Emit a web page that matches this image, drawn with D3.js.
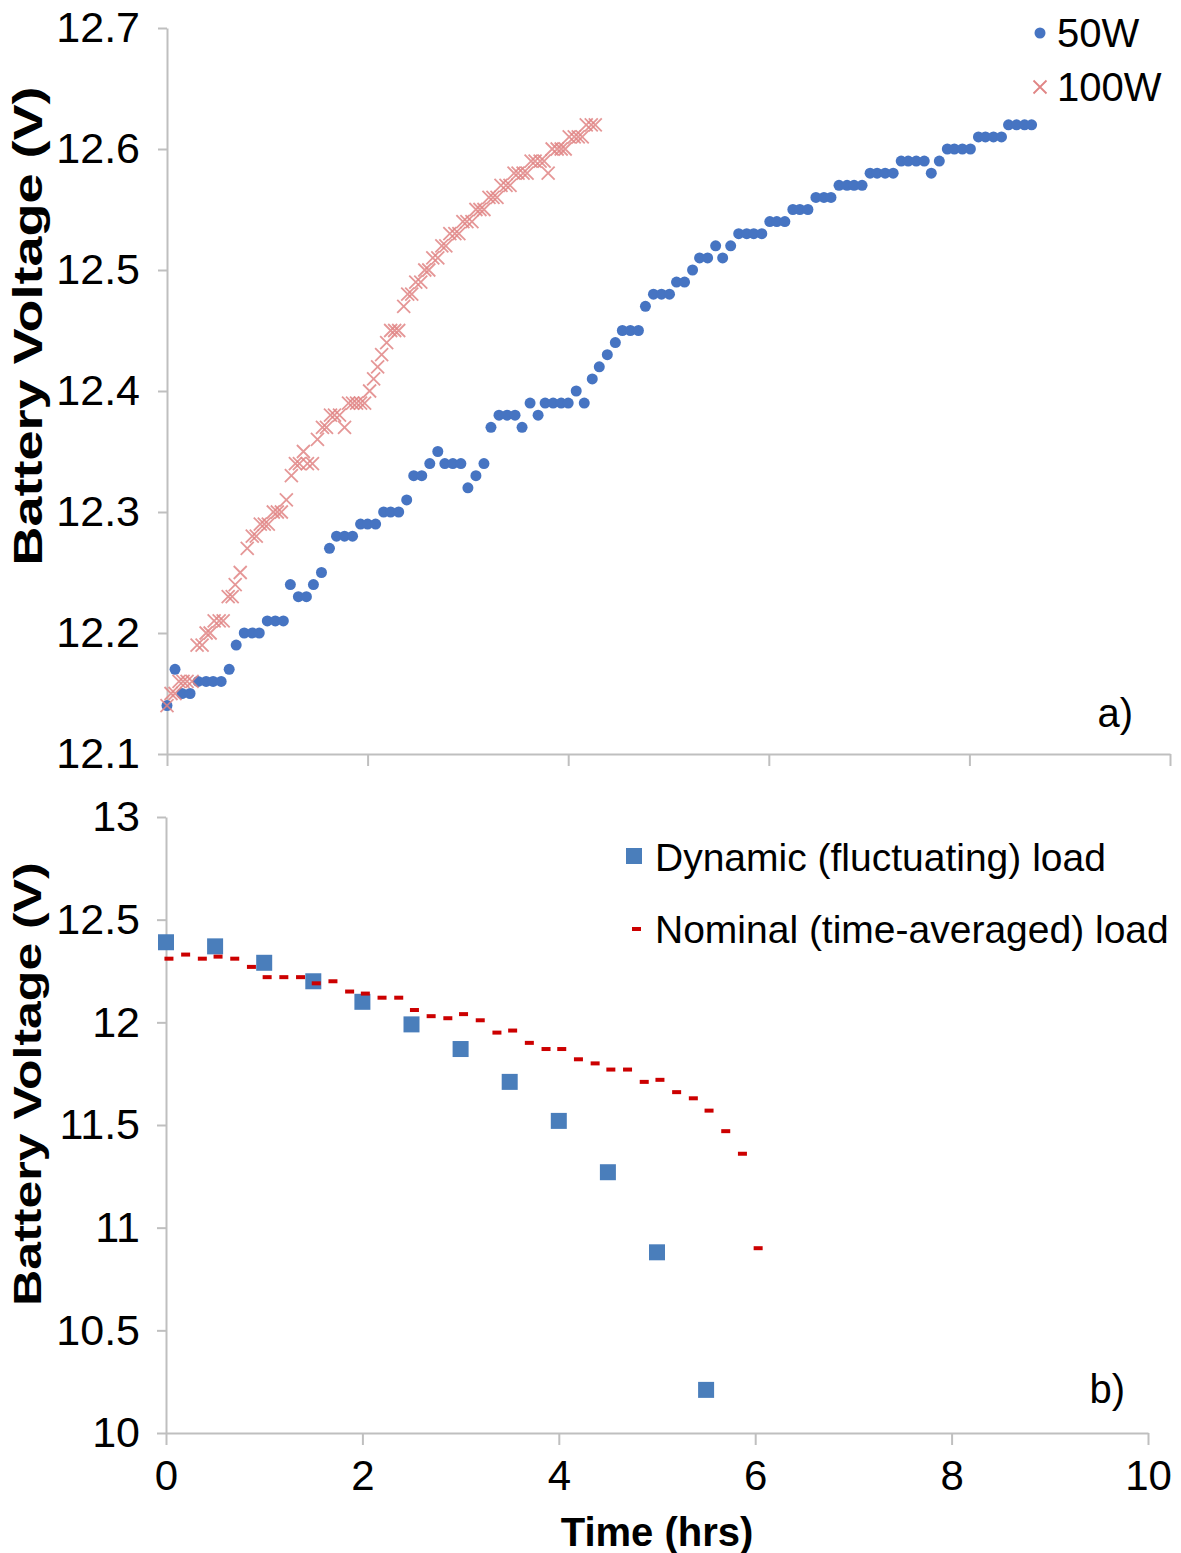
<!DOCTYPE html>
<html><head><meta charset="utf-8">
<script src="https://cdn.jsdelivr.net/npm/d3@7"></script>
<style>body{margin:0;background:#fff} text{font-family:"Liberation Sans",Arial,sans-serif;fill:#000}</style>
</head><body><svg id="c" width="1181" height="1553"></svg>
<script>
// ---- Panel a data ----
const time50W = [0,0.08,0.15,0.23,0.31,0.39,0.46,0.54,0.62,0.69,
0.77,0.85,0.92,1.00,1.08,1.16,1.23,1.31,1.39,1.46,
1.54,1.62,1.69,1.77,1.85,1.93,2.00,2.08,2.16,2.23,
2.31,2.39,2.46,2.54,2.62,2.70,2.77,2.85,2.93,3.00,
3.08,3.16,3.23,3.31,3.39,3.47,3.54,3.62,3.70,3.77,
3.85,3.93,4.00,4.08,4.16,4.24,4.31,4.39,4.47,4.54,
4.62,4.70,4.77,4.85,4.93,5.01,5.08,5.16,5.24,5.31,
5.39,5.47,5.54,5.62,5.70,5.78,5.85,5.93,6.01,6.08,
6.16,6.24,6.31,6.39,6.47,6.55,6.62,6.70,6.78,6.85,
6.93,7.01,7.08,7.16,7.24,7.32,7.39,7.47,7.55,7.62,
7.70,7.78,7.85,7.93,8.01,8.09,8.16,8.24,8.32,8.39,
8.47,8.55,8.62];
const volt50W = [12.14,12.17,12.15,12.15,12.16,12.16,12.16,12.16,12.17,12.19,
12.20,12.20,12.20,12.21,12.21,12.21,12.24,12.23,12.23,12.24,
12.25,12.27,12.28,12.28,12.28,12.29,12.29,12.29,12.30,12.30,
12.30,12.31,12.33,12.33,12.34,12.35,12.34,12.34,12.34,12.32,
12.33,12.34,12.37,12.38,12.38,12.38,12.37,12.39,12.38,12.39,
12.39,12.39,12.39,12.40,12.39,12.41,12.42,12.43,12.44,12.45,
12.45,12.45,12.47,12.48,12.48,12.48,12.49,12.49,12.50,12.51,
12.51,12.52,12.51,12.52,12.53,12.53,12.53,12.53,12.54,12.54,
12.54,12.55,12.55,12.55,12.56,12.56,12.56,12.57,12.57,12.57,
12.57,12.58,12.58,12.58,12.58,12.59,12.59,12.59,12.59,12.58,
12.59,12.60,12.60,12.60,12.60,12.61,12.61,12.61,12.61,12.62,
12.62,12.62,12.62];
const time100W = [0.00,0.04,0.08,0.12,0.16,0.20,0.25,0.30,0.35,0.39,
0.43,0.47,0.52,0.56,0.61,0.65,0.68,0.73,0.80,0.85,
0.89,0.93,0.97,1.01,1.06,1.10,1.14,1.19,1.24,1.28,
1.32,1.36,1.40,1.45,1.50,1.55,1.59,1.63,1.67,1.72,
1.77,1.81,1.85,1.89,1.93,1.97,2.02,2.06,2.10,2.14,
2.19,2.23,2.27,2.31,2.36,2.40,2.44,2.48,2.53,2.57,
2.61,2.65,2.70,2.74,2.78,2.82,2.87,2.91,2.95,2.99,
3.04,3.08,3.12,3.16,3.21,3.25,3.29,3.33,3.38,3.42,
3.46,3.50,3.55,3.59,3.63,3.67,3.72,3.76,3.80,3.84,
3.89,3.93,3.97,4.01,4.06,4.10,4.14,4.18,4.23,4.27];
const volt100W = [12.14,12.15,12.15,12.16,12.16,12.16,12.16,12.19,12.19,12.20,
12.20,12.21,12.21,12.21,12.23,12.23,12.24,12.25,12.27,12.28,
12.28,12.29,12.29,12.29,12.30,12.30,12.30,12.31,12.33,12.34,
12.34,12.35,12.34,12.34,12.36,12.37,12.37,12.38,12.38,12.38,
12.37,12.39,12.39,12.39,12.39,12.39,12.40,12.41,12.42,12.43,
12.44,12.45,12.45,12.45,12.47,12.48,12.48,12.49,12.49,12.50,
12.50,12.51,12.51,12.52,12.52,12.53,12.53,12.53,12.54,12.54,
12.54,12.55,12.55,12.55,12.56,12.56,12.56,12.57,12.57,12.57,
12.58,12.58,12.58,12.58,12.59,12.59,12.59,12.59,12.58,12.60,
12.60,12.60,12.60,12.61,12.61,12.61,12.61,12.62,12.62,12.62];
const ticksAy = [12.1,12.2,12.3,12.4,12.5,12.6,12.7];
const ticksAx = [0,2,4,6,8,10];
const seriesA = ["50W","100W"];

// ---- Panel b data ----
const timeDynamic = [0,0.5,1,1.5,2,2.5,3,3.5,4,4.5,5,5.5];
const voltDynamic = [12.39,12.37,12.29,12.20,12.10,11.99,11.87,11.71,11.52,11.27,10.88,10.21];
const timeNominal = [0.03,0.20,0.37,0.53,0.70,0.87,1.03,1.20,1.37,1.53,
1.70,1.87,2.03,2.20,2.37,2.53,2.70,2.87,3.03,3.20,
3.37,3.53,3.70,3.87,4.03,4.20,4.37,4.53,4.70,4.87,
5.03,5.20,5.37,5.53,5.70,5.87,6.03];
const voltNominal = [12.31,12.33,12.31,12.32,12.31,12.27,12.22,12.22,12.22,12.19,
12.20,12.15,12.14,12.12,12.12,12.06,12.03,12.02,12.04,12.01,
11.95,11.96,11.90,11.87,11.87,11.82,11.80,11.77,11.77,11.71,
11.72,11.66,11.63,11.57,11.47,11.36,10.90];
const ticksBy = [10,10.5,11,11.5,12,12.5,13];
const ticksBx = [0,2,4,6,8,10];
const seriesB = ["Dynamic (fluctuating) load","Nominal (time-averaged) load"];

const svg = d3.select("#c");
const AX = "#bfbfbf";
const BLUE = "#4674c2";
const PINK = "#e08585";
const SQ = "#4a7ebb";
const RED = "#cc0000";

function styleAxis(fs){
  return g => {
    g.select(".domain").attr("stroke",AX).attr("stroke-width",2);
    g.selectAll(".tick line").attr("stroke",AX).attr("stroke-width",2);
    g.selectAll(".tick text").style("font-size",fs+"px").attr("fill","#000");
  };
}

// ===== Panel a =====
const xa = d3.scaleLinear().domain([0,10]).range([167,1170]);
const ya = d3.scaleLinear().domain([12.1,12.7]).range([754,28]);

svg.append("g").attr("transform","translate(167,0)")
  .call(d3.axisLeft(ya).tickValues(ticksAy).tickSize(9).tickSizeOuter(0).tickPadding(18).tickFormat(d3.format(".1f")))
  .call(styleAxis(43));
svg.append("g").attr("transform","translate(0,754)")
  .call(d3.axisBottom(xa).tickValues(ticksAx).tickSize(12).tickSizeOuter(0).tickFormat(""))
  .call(styleAxis(40));

const d50 = time50W.map((t,i)=>[t,volt50W[i]]);
const d100 = time100W.map((t,i)=>[t,volt100W[i]]);
svg.append("g").selectAll("circle").data(d50).join("circle")
  .attr("cx",d=>xa(d[0])).attr("cy",d=>ya(d[1])).attr("r",5.5).attr("fill",BLUE);
const crossPath = "M-6.5,-6.5L6.5,6.5M-6.5,6.5L6.5,-6.5";
svg.append("g").selectAll("path").data(d100).join("path")
  .attr("transform",d=>`translate(${xa(d[0])},${ya(d[1])})`)
  .attr("d",crossPath).attr("stroke",PINK).attr("stroke-width",1.8).attr("stroke-opacity",0.85).attr("fill","none");

// legend a
const lgA = svg.append("g");
lgA.append("circle").attr("cx",1040).attr("cy",33).attr("r",5.5).attr("fill",BLUE);
lgA.append("path").attr("transform","translate(1040,87)").attr("d",crossPath).attr("stroke",PINK).attr("stroke-width",1.8).attr("fill","none");
lgA.selectAll("text").data(seriesA).join("text")
  .attr("x",1057).attr("y",(d,i)=>33+i*54).attr("dy","0.35em").style("font-size","40px").text(d=>d);
svg.append("text").attr("x",1133).attr("y",727).attr("text-anchor","end").style("font-size","40px").text("a)");

// y title a
svg.append("text").attr("transform","translate(42,326) rotate(-90) scale(1,0.75)").attr("text-anchor","middle")
  .style("font-size","54px").style("font-weight","bold").text("Battery Voltage (V)");

// ===== Panel b =====
const xb = d3.scaleLinear().domain([0,10]).range([166,1148]);
const yb = d3.scaleLinear().domain([10,13]).range([1433,817]);
svg.append("g").attr("transform","translate(166,0)")
  .call(d3.axisLeft(yb).tickValues(ticksBy).tickSize(9).tickSizeOuter(0).tickPadding(17).tickFormat(d3.format("")))
  .call(styleAxis(43));
svg.append("g").attr("transform","translate(0,1433)")
  .call(d3.axisBottom(xb).tickValues(ticksBx).tickSize(12).tickSizeOuter(0).tickPadding(15))
  .call(styleAxis(42));

const dDyn = timeDynamic.map((t,i)=>[t,voltDynamic[i]]);
const dNom = timeNominal.map((t,i)=>[t,voltNominal[i]]);
svg.append("g").selectAll("rect").data(dDyn).join("rect")
  .attr("x",d=>xb(d[0])-8).attr("y",d=>yb(d[1])-8).attr("width",16).attr("height",16).attr("fill",SQ);
svg.append("g").selectAll("rect").data(dNom).join("rect")
  .attr("x",d=>xb(d[0])-4.5).attr("y",d=>yb(d[1])-2).attr("width",9).attr("height",4).attr("fill",RED);

const lgB = svg.append("g");
lgB.append("rect").attr("x",626).attr("y",848).attr("width",16).attr("height",16).attr("fill",SQ);
lgB.append("rect").attr("x",632).attr("y",927).attr("width",9).attr("height",4).attr("fill",RED);
lgB.selectAll("text").data(seriesB).join("text")
  .attr("x",655).attr("y",(d,i)=>857+i*72).attr("dy","0.35em").style("font-size","39px").text(d=>d);
svg.append("text").attr("x",1125).attr("y",1403).attr("text-anchor","end").style("font-size","40px").text("b)");

svg.append("text").attr("transform","translate(41,1084) rotate(-90) scale(1,0.76)").attr("text-anchor","middle")
  .style("font-size","50px").style("font-weight","bold").text("Battery Voltage (V)");
svg.append("text").attr("x",657).attr("y",1546).attr("text-anchor","middle")
  .style("font-size","40px").style("font-weight","bold").text("Time (hrs)");
</script></body></html>
